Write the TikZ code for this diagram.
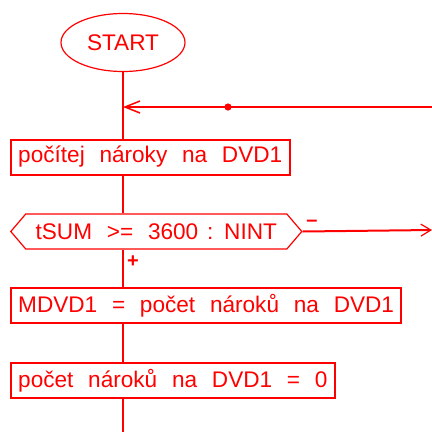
\documentclass[tikz,border=0pt]{standalone}
\usepackage{fontspec}
\setmainfont{Liberation Sans}[WordSpace=2.35]
\usetikzlibrary{shapes.geometric,shapes.symbols,arrows.meta}
\definecolor{fcred}{RGB}{255,0,0}
\begin{document}
\begin{tikzpicture}[x=1pt,y=1pt,
  every node/.style={text=fcred, font=\fontsize{22.6}{26}\selectfont},
  thinline/.style={draw=fcred, line width=1.2pt},
  flow/.style={draw=fcred, line width=2pt},
  procbox/.style={flow, rectangle, anchor=west, minimum height=35, inner xsep=7.2pt, inner ysep=0pt},
  decbox/.style={thinline, signal, signal to=west and east, signal pointer angle=99, anchor=west, minimum height=35, minimum width=291, inner xsep=4pt, inner ysep=0pt},
  termbox/.style={thinline, ellipse, minimum width=124, minimum height=58, inner sep=0pt},
  tipL/.style={-{Straight Barb[length=15pt,width=12pt,line width=1.5pt]}},
  tipR/.style={-{Straight Barb[length=10pt,width=12pt,line width=1.2pt]}},
  lbl/.style={font=\bfseries\fontsize{20}{24}\selectfont, inner sep=0pt}
]
\useasboundingbox (0,0) rectangle (432,-432);
\node[termbox] (start) at (123,-42.5) {START};
\node[procbox] (b1) at (10,-157) {počítej nároky na DVD1};
\node[decbox] (dec) at (10,-231.5) {tSUM >= 3600\hspace{-6pt} : \hspace{-6pt}NINT};
\node[procbox] (b2) at (10,-305.5) {MDVD1 = počet nároků na DVD1};
\node[procbox] (b3) at (10,-380.5) {počet nároků na DVD1 = 0};
\coordinate (loopin) at (123,-107);
\coordinate (loopR) at (432,-107);
\coordinate (dot) at (228,-107);
\coordinate (exitR) at (432,-230);
\coordinate (bottom) at (123,-432);
\draw[flow] (start.south) -- (start.south |- b1.north);
\draw[flow] (start.south |- b1.south) -- (start.south |- dec.north);
\draw[flow] (start.south |- dec.south) -- (start.south |- b2.north);
\draw[flow] (start.south |- b2.south) -- (start.south |- b3.north);
\draw[flow] (start.south |- b3.south) -- (bottom);
\draw[flow, tipL] (loopR) -- (loopin);
\fill[fcred] (dot) circle (3.6);
\draw[flow, tipR] (dec.east) -- (exitR);
\node[lbl] (minus) at (312,-223) {–};
\node[lbl] (plus) at (133,-262) {+};
\end{tikzpicture}
\end{document}
